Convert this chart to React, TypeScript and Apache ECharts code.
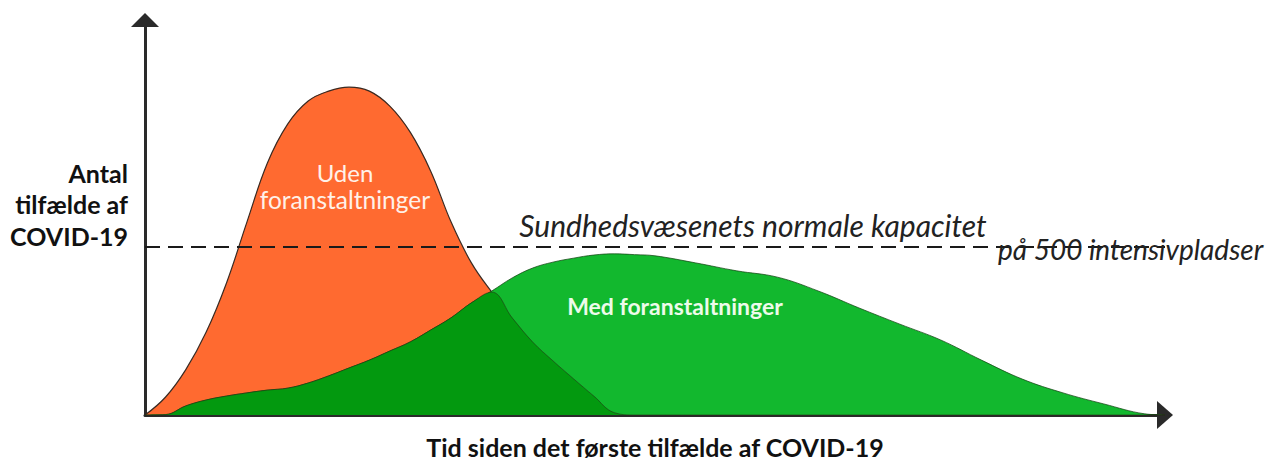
import React, { useEffect, useRef } from "react";
import * as echarts from "echarts";

// Time since first case (arbitrary units, 0..100)
const TIME = [
  0, 2, 4, 6, 8, 10, 12, 14, 16, 18, 20, 22, 24, 26, 28, 30, 32, 34, 36, 38, 40,
  42, 44, 46, 48, 50, 54, 58, 62, 66, 70, 74, 78, 82, 86, 90, 94, 98, 100,
];
// Cases without measures (orange curve)
const UDEN = [
  0, 4.5, 11.5, 21.0, 33.5, 48.9, 63.8, 73.7, 79.5, 82.0, 83.0, 82.0, 78.2, 71.6,
  61.8, 48.9, 38.5, 31.1, 24.6, 18.5, 13.7, 9.2, 4.8, 0.6, 0, 0, 0, 0, 0, 0, 0,
  0, 0, 0, 0, 0, 0, 0, 0,
];
// Cases with measures (green curve)
const MED = [
  0, 0.1, 2.3, 3.8, 4.8, 5.6, 6.3, 6.8, 8.1, 9.9, 11.9, 13.9, 16.2, 18.5, 21.5,
  24.6, 28.4, 31.4, 34.7, 37.2, 38.7, 39.7, 40.5, 40.8, 40.6, 40.3, 38.5, 36.5,
  34.9, 31.4, 27.1, 23.0, 19.0, 13.9, 9.1, 5.6, 2.8, 0.3, 0,
];
const CAPACITY = 42.5;

const X_TITLE = "Tid siden det første tilfælde af COVID-19";
const Y_TITLE = ["Antal", "tilfælde af", "COVID-19"];
const CAP_LABEL = "Sundhedsvæsenets normale kapacitet";
const CAP_SUB = "på 500 intensivpladser";
const UDEN_LABEL = ["Uden", "foranstaltninger"];
const MED_LABEL = "Med foranstaltninger";

const ORANGE = "#FF6A30";
const GREEN = "#12B82E";
const DARK_GREEN = "#03990F";
const FONT = "Lato, 'Open Sans', sans-serif";

export default function App() {
  const ref = useRef<HTMLDivElement>(null);

  useEffect(() => {
    if (!ref.current) return;
    const chart = echarts.init(ref.current, null, { renderer: "svg" });

    const uden = TIME.map((t, i) => [t, UDEN[i]]);
    const med = TIME.map((t, i) => [t, MED[i]]);
    const overlap = TIME.map((t, i) => [t, Math.min(UDEN[i], MED[i])]);

    const axisLine = {
      show: true,
      onZero: false,
      symbol: ["none", "triangle"],
      lineStyle: { color: "#2a2a2a", width: 3 },
    };

    const labelText = (text: string, x: number, y: number, font: string, fill: string, align = "center") => ({
      type: "text",
      x,
      y,
      z: 10,
      style: {
        text,
        fill,
        font,
        textAlign: align,
        textVerticalAlign: "middle",
      },
    });

    chart.setOption({
      animation: false,
      backgroundColor: "#ffffff",
      grid: { left: 145, right: 103, top: 20, bottom: 47, outerBoundsMode: "none" },
      xAxis: {
        type: "value",
        min: 0,
        max: 100,
        axisLine: { ...axisLine, symbolSize: [28, 16] },
        axisTick: { show: false },
        axisLabel: { show: false },
        splitLine: { show: false },
        name: X_TITLE,
        nameLocation: "middle",
        nameGap: 19,
        nameTextStyle: {
          fontFamily: FONT,
          fontWeight: "bold",
          fontSize: 25,
          color: "#111",
        },
      },
      yAxis: {
        type: "value",
        min: 0,
        max: 100,
        axisLine: { ...axisLine, symbolSize: [28, 14] },
        axisTick: { show: false },
        axisLabel: { show: false },
        splitLine: { show: false },
      },
      series: [
        {
          type: "line",
          data: uden,
          smooth: 0.4,
          symbol: "none",
          z: 2,
          lineStyle: { color: "#3a2a22", width: 1.2 },
          areaStyle: { color: ORANGE, opacity: 1 },
        },
        {
          type: "line",
          data: med,
          smooth: 0.4,
          symbol: "none",
          z: 3,
          lineStyle: { color: "rgba(20,70,20,0.75)", width: 1 },
          areaStyle: { color: GREEN, opacity: 1 },
        },
        {
          type: "line",
          data: overlap,
          smooth: 0.4,
          symbol: "none",
          z: 4,
          lineStyle: { color: "rgba(40,40,20,0.55)", width: 1 },
          areaStyle: { color: DARK_GREEN, opacity: 1 },
          markLine: {
            silent: true,
            symbol: ["none", "none"],
            label: { show: false },
            lineStyle: { color: "#1a1a1a", width: 1.8, type: [15, 8] },
            data: [[{ coord: [0, CAPACITY] }, { coord: [100, CAPACITY] }]],
          },
        },
      ],
      graphic: [
        {
          type: "text",
          x: 128,
          y: 204,
          z: 10,
          style: {
            text: Y_TITLE.join("\n"),
            fill: "#111",
            font: `bold 25px ${FONT}`,
            lineHeight: 31.5,
            textAlign: "right",
            textVerticalAlign: "middle",
          },
        },
        labelText(UDEN_LABEL[0], 345, 172, `24px ${FONT}`, "#FFF1E8"),
        labelText(UDEN_LABEL[1], 345, 199, `24.5px ${FONT}`, "#FFF1E8"),
        labelText(MED_LABEL, 675, 306, `bold 23px ${FONT}`, "#EDFBEA"),
        labelText(CAP_LABEL, 753, 225, `italic 30px ${FONT}`, "#222"),
        labelText(CAP_SUB, 998, 249, `italic 28px ${FONT}`, "#222", "left"),
      ],
    });

    return () => chart.dispose();
  }, []);

  return (
    <div
      ref={ref}
      style={{ position: "absolute", left: 0, top: 0, width: 1268, height: 462 }}
    />
  );
}
